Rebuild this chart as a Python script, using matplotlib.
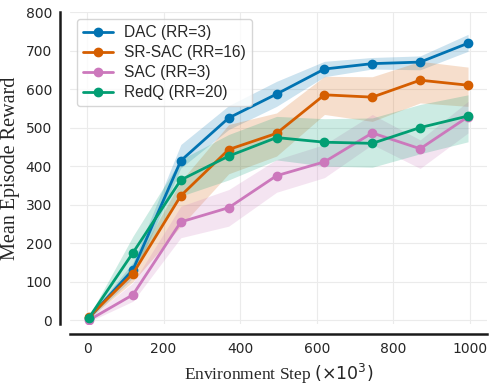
import numpy as np
import matplotlib
matplotlib.use("Agg")
import matplotlib.pyplot as plt
import seaborn as sns

sns.set_style("whitegrid")

# environment step (x10^3)
steps = [5, 120, 245, 370, 495, 620, 745, 870, 995]

dac_mean = [6, 131, 414, 525, 587, 652, 666, 670, 719]
dac_lo = [2, 110, 395, 495, 555, 632, 652, 650, 698]
dac_hi = [10, 150, 456, 557, 620, 672, 682, 686, 742]

srsac_mean = [8, 121, 323, 443, 485, 585, 579, 623, 610]
srsac_lo = [3, 100, 244, 380, 426, 534, 516, 564, 555]
srsac_hi = [12, 140, 361, 508, 538, 633, 632, 672, 657]

sac_mean = [0, 66, 255, 292, 375, 411, 486, 445, 528]
sac_lo = [-4, 49, 214, 244, 332, 370, 456, 394, 486]
sac_hi = [4, 97, 296, 339, 417, 456, 534, 468, 568]

redq_mean = [6, 175, 364, 426, 474, 462, 459, 500, 530]
redq_lo = [2, 131, 322, 364, 416, 400, 397, 432, 463]
redq_hi = [10, 218, 417, 482, 529, 523, 525, 560, 585]

labels = ["DAC (RR=3)", "SR-SAC (RR=16)", "SAC (RR=3)", "RedQ (RR=20)"]
colors = ["#0173b2", "#d55e00", "#cc78bc", "#029e73"]

series = [
    (dac_mean, dac_lo, dac_hi),
    (srsac_mean, srsac_lo, srsac_hi),
    (sac_mean, sac_lo, sac_hi),
    (redq_mean, redq_lo, redq_hi),
]

fig = plt.figure(figsize=(4.95, 3.88), dpi=100)
ax = fig.add_axes([0.1414, 0.165, 0.8424, 0.804])

for (m, lo, hi), lab, c in zip(series, labels, colors):
    ax.fill_between(steps, lo, hi, color=c, alpha=0.2, linewidth=0)
    ax.plot(steps, m, color=c, marker="o", markersize=6, linewidth=2, label=lab)

ax.set_ylim(-10, 800)
ax.set_xticks([0, 200, 400, 600, 800, 1000])
ax.set_yticks(range(0, 801, 100))
ax.grid(True, color="#ebebeb", linewidth=0.8)

for lab in ax.get_xticklabels() + ax.get_yticklabels():
    lab.set_fontfamily("Liberation Sans")
    lab.set_fontsize(12)
    lab.set_color("#262626")
ax.tick_params(axis="both", length=0, pad=6)

ax.set_xlabel(r"Environment Step $(\times 10^3)$", family="Liberation Serif", fontsize=12.5, color="#262626")
ax.set_ylabel("Mean Episode Reward", family="Liberation Serif", fontsize=14.5, color="#262626")

for s in ["top", "right"]:
    ax.spines[s].set_visible(False)
for s in ["left", "bottom"]:
    ax.spines[s].set_position(("outward", 7))
    ax.spines[s].set_color("#1a1a1a")
    ax.spines[s].set_linewidth(1.8)

leg = ax.legend(loc="upper left", prop={"family": "Liberation Sans", "size": 11.2},
                frameon=True, handlelength=1.9, handletextpad=0.7,
                labelspacing=0.32, borderaxespad=0.45, borderpad=0.4)
leg.get_frame().set_edgecolor("#cccccc")

fig.savefig("out.png", dpi=100)
